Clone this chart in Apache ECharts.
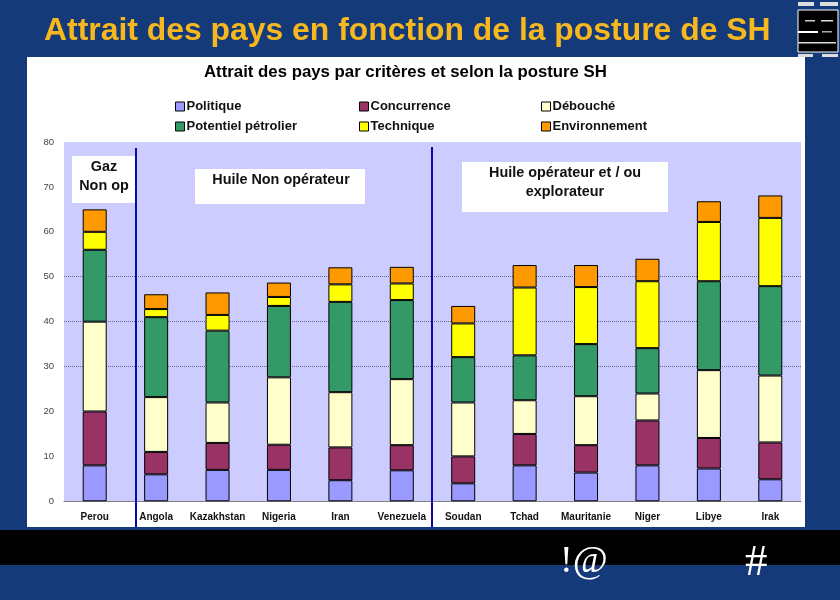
<!DOCTYPE html>
<html><head><meta charset="utf-8">
<style>html,body{margin:0;padding:0;background:#153A7A}#c{width:840px;height:600px}</style>
<script src="https://cdn.jsdelivr.net/npm/echarts@6/dist/echarts.min.js"></script>
</head><body><div id="c"></div>
<script>
const categories=['Perou','Angola','Kazakhstan','Nigeria','Iran','Venezuela','Soudan','Tchad','Mauritanie','Niger','Libye','Irak'];
const politique=[8,6,7,7,4.7,6.9,4,8,6.4,8,7.3,4.9];
const concurrence=[12,5,6,5.6,7.3,5.6,6,7,6.1,10,6.8,8.2];
const debouche=[20,12.2,9,15,12.3,14.7,12,7.5,10.9,6,15.1,14.9];
const potentiel=[16,17.8,16,15.9,20.1,17.6,10.1,10,11.6,10.1,19.8,19.9];
const technique=[4,1.8,3.5,2,3.9,3.7,7.5,15.1,12.7,14.9,13.2,15.2];
const environnement=[5,3.3,5,3.2,3.8,3.7,3.9,5,4.9,5,4.6,5];
const F='"Liberation Sans",Arial,sans-serif';
const mk=(name,data,color)=>({name,type:'bar',stack:'t',data,barWidth:24,
  itemStyle:{color,borderColor:'#000',borderWidth:1}});
const legend=(left,data)=>({left,top:95,orient:'vertical',icon:'rect',itemWidth:9,itemHeight:9,itemGap:7,data,
  itemStyle:{borderColor:'#000',borderWidth:1},
  textStyle:{fontFamily:F,fontSize:13,fontWeight:'bold',color:'#111',padding:[0,0,0,-3]}});
const box=(x,y,w,h)=>({type:'rect',z:50,shape:{x,y,width:w,height:h},style:{fill:'#fff'}});
const label=(x,y,t,size)=>({type:'text',z:51,x,y,style:{text:t,fill:'#111',font:'bold '+(size||14.4)+'px '+F,align:'center',verticalAlign:'middle',lineHeight:19}});
const vline=(x,y1,y2)=>({type:'line',z:60,shape:{x1:x,y1,x2:x,y2},style:{stroke:'#0A0AAA',lineWidth:2}});
const chart=echarts.init(document.getElementById('c'),null,{renderer:'canvas'});
chart.setOption({
  animation:false,backgroundColor:'#153A7A',
  title:[
    {text:'Attrait des pays en fonction de la posture de SH',left:44,top:15,padding:0,textStyle:{fontFamily:F,fontSize:31.9,fontWeight:'bold',color:'#F7B71E'}},
    {text:'Attrait des pays par critères et selon la posture SH',left:204,top:64,padding:0,textStyle:{fontFamily:F,fontSize:16.8,fontWeight:'bold',color:'#000'}}
  ],
  legend:[legend(170,['Politique','Potentiel pétrolier']),legend(354,['Concurrence','Technique']),legend(536,['Débouché','Environnement'])],
  grid:{left:64,right:39,top:142,bottom:98.7,show:true,backgroundColor:'#CCCCFF',borderWidth:0},
  xAxis:{type:'category',data:categories,axisTick:{show:false},axisLine:{lineStyle:{color:'#808080'}},
    axisLabel:{interval:0,margin:11,fontFamily:F,fontSize:10,fontWeight:'bold',color:'#111'}},
  yAxis:{type:'value',min:0,max:80,interval:10,axisLine:{show:false},axisTick:{show:false},
    axisLabel:{margin:10,fontFamily:F,fontSize:9.5,color:'#444'},
    splitLine:{show:true,lineStyle:{type:'dotted',width:1,color:['transparent','transparent','transparent','#666688','#666688','#666688','transparent','transparent','transparent']}}},
  series:[mk('Politique',politique,'#9999FF'),mk('Concurrence',concurrence,'#993366'),mk('Débouché',debouche,'#FFFFCC'),
    mk('Potentiel pétrolier',potentiel,'#339966'),mk('Technique',technique,'#FFFF00'),mk('Environnement',environnement,'#FF9900')],
  graphic:{elements:[
    {type:'rect',z:-5,shape:{x:27,y:57,width:778,height:470},style:{fill:'#fff'}},
    {type:'rect',z:-5,shape:{x:0,y:530,width:840,height:35},style:{fill:'#000'}},
    box(72,156,64,47),label(104,177,'Gaz\nNon op'),
    box(195,169,170,35),label(281,180,'Huile Non opérateur'),
    box(462,162,206,50),label(565,183,'Huile opérateur et / ou\nexplorateur'),
    vline(136,148,527),vline(432,147,527),
    {type:'text',z:70,x:560,y:543,style:{text:'!@',fill:'#fff',font:'38px "Liberation Serif",serif'}},
    {type:'text',z:70,x:745,y:541,style:{text:'#',fill:'#fff',font:'45px "Liberation Serif",serif'}},
    {type:'rect',z:70,shape:{x:798,y:10,width:40,height:42},style:{fill:'#000',stroke:'#fff',lineWidth:1}},
    {type:'rect',z:71,shape:{x:798,y:2,width:16,height:4},style:{fill:'#ddd'}},
    {type:'rect',z:71,shape:{x:820,y:2,width:18,height:4},style:{fill:'#ddd'}},
    {type:'rect',z:71,shape:{x:798,y:54,width:15,height:3},style:{fill:'#ddd'}},
    {type:'rect',z:71,shape:{x:822,y:54,width:16,height:3},style:{fill:'#ddd'}},
    {type:'rect',z:71,shape:{x:805,y:20,width:10,height:1.5},style:{fill:'#ccc'}},
    {type:'rect',z:71,shape:{x:821,y:20,width:12,height:1.5},style:{fill:'#ddd'}},
    {type:'rect',z:71,shape:{x:798,y:31,width:20,height:2},style:{fill:'#fff'}},
    {type:'rect',z:71,shape:{x:822,y:31,width:10,height:1.5},style:{fill:'#aaa'}},
    {type:'rect',z:71,shape:{x:798,y:42,width:38,height:1.5},style:{fill:'#ddd'}}
  ]}
});
</script></body></html>
